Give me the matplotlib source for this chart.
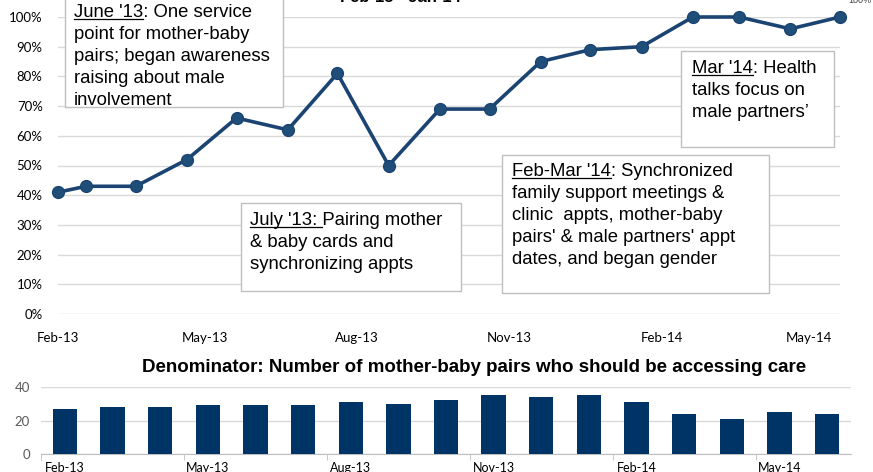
import matplotlib
matplotlib.use('Agg')
import matplotlib.pyplot as plt
import matplotlib.dates as mdates
from matplotlib.lines import Line2D
from matplotlib.patches import Rectangle
import pandas as pd

# top chart: proportion of mother-baby pairs accessing care
point_dates = ['2013-02-01', '2013-02-18', '2013-03-20', '2013-04-20', '2013-05-20',
               '2013-06-20', '2013-07-20', '2013-08-20', '2013-09-20', '2013-10-20',
               '2013-11-20', '2013-12-20', '2014-01-20', '2014-02-20', '2014-03-20',
               '2014-04-20', '2014-05-20']
pct_values = [0.41, 0.43, 0.43, 0.52, 0.66, 0.62, 0.81, 0.50, 0.69, 0.69,
              0.85, 0.89, 0.90, 1.00, 1.00, 0.96, 1.00]
top_ticks = ['2013-02-01', '2013-05-01', '2013-08-01', '2013-11-01', '2014-02-01', '2014-05-01']

# bottom chart: denominator
bar_months = ['Feb-13', 'Mar-13', 'Apr-13', 'May-13', 'Jun-13', 'Jul-13', 'Aug-13', 'Sep-13',
              'Oct-13', 'Nov-13', 'Dec-13', 'Jan-14', 'Feb-14', 'Mar-14', 'Apr-14', 'May-14',
              'Jun-14']
denominator = [27, 28, 28, 29, 29, 29, 31, 30, 32, 35, 34, 35, 31, 24, 21, 25, 24]

W, H = 873, 472
LINE_COL = '#1b4472'
BAR_COL = '#003366'
GRID_COL = '#d9d9d9'
TICK_FONT = 'Lato'
BOX_FONT = 'Liberation Sans'

fig = plt.figure(figsize=(W / 100, H / 100), dpi=100)


def fx(px):
    return px / W


def fy(py):
    return 1 - py / H


# ---- top line chart ----
ax = fig.add_axes([fx(58), fy(314), fx(840) - fx(58), fy(17) - fy(314)])
dates = pd.to_datetime(point_dates)
ax.plot(dates, pct_values, color=LINE_COL, lw=2.6, marker='o', ms=8.5,
        mec=LINE_COL, mfc='#1f4e79', clip_on=False, zorder=3)
ax.set_ylim(0, 1.0)
ax.set_xlim(dates[0], dates[-1])
ax.set_yticks([i / 10 for i in range(11)])
ax.set_yticklabels([f'{i * 10}%' for i in range(11)], fontsize=9.5, family=TICK_FONT)
ax.set_xticks(pd.to_datetime(top_ticks))
ax.xaxis.set_major_formatter(mdates.DateFormatter('%b-%y'))
for lab in ax.get_xticklabels():
    lab.set_fontfamily(TICK_FONT)
    lab.set_fontsize(9.5)
ax.tick_params(axis='both', length=0)
ax.tick_params(axis='x', pad=13)
ax.tick_params(axis='y', pad=11)
ax.grid(axis='y', color=GRID_COL, lw=1)
ax.set_axisbelow(True)
for s in ax.spines.values():
    s.set_visible(False)

# title cut off at the top of the image
fig.text(fx(400), fy(2.5), 'Feb-13 - Jan-14', ha='center', va='baseline',
         fontsize=12, fontweight='bold', family=BOX_FONT)
fig.text(fx(848), fy(3), '100%', ha='left', va='baseline', fontsize=6.5,
         color='#404040', family=BOX_FONT)

# ---- bottom bar chart ----
ax2 = fig.add_axes([fx(41), fy(454), fx(851) - fx(41), fy(387) - fy(454)])
xs = list(range(len(bar_months)))
ax2.bar(xs, denominator, width=0.51, color=BAR_COL, zorder=3)
ax2.set_xlim(-0.5, len(bar_months) - 0.5)
ax2.set_ylim(0, 40)
ax2.set_yticks([0, 20, 40])
ax2.set_yticklabels(['0', '20', '40'], fontsize=9.5, color='#595959', family=TICK_FONT)
ax2.set_xticks(xs[::3])
ax2.set_xticklabels(bar_months[::3], fontsize=9, family=TICK_FONT)
ax2.set_xticks([x - 0.5 for x in xs[::3]], minor=True)
ax2.tick_params(axis='x', which='major', length=0, pad=6)
ax2.tick_params(axis='x', which='minor', length=4, color='#bfbfbf')
ax2.tick_params(axis='y', length=0, pad=8)
ax2.grid(axis='y', color=GRID_COL, lw=1)
for k in ['top', 'right', 'left']:
    ax2.spines[k].set_visible(False)
ax2.spines['bottom'].set_color('#bfbfbf')
fig.text(fx(474), fy(367), 'Denominator: Number of mother-baby pairs who should be accessing care',
         ha='center', va='center', fontsize=13.5, fontweight='bold', family=BOX_FONT)

# ---- annotation boxes ----
boxes = [
    # (left, top, right, bottom, text left, text top, underlined part, text)
    (65, -20, 283, 107, 74, 4, "June '13",
     "June '13: One service\npoint for mother-baby\npairs; began awareness\nraising about male\ninvolvement"),
    (241, 203, 461, 291, 250, 212, "July '13: ",
     "July '13: Pairing mother\n& baby cards and\nsynchronizing appts"),
    (502, 155, 769, 293, 512, 163, "Feb-Mar '14",
     "Feb-Mar '14: Synchronized\nfamily support meetings &\nclinic  appts, mother-baby\n"
     "pairs' & male partners' appt\ndates, and began gender"),
    (681, 51, 834, 147, 692, 60, "Mar '14",
     "Mar '14: Health\ntalks focus on\nmale partners\u2019"),
]
FS = 13.3
texts = []
for x0, y0, x1, y1, tx, ty, under, txt in boxes:
    fig.add_artist(Rectangle((fx(x0), fy(y1)), fx(x1) - fx(x0), fy(y0) - fy(y1),
                             transform=fig.transFigure, facecolor='white',
                             edgecolor='#bfbfbf', lw=1, zorder=5))
    fig.text(fx(tx), fy(ty), txt, ha='left', va='top', fontsize=FS, family=BOX_FONT,
             linespacing=1.38, zorder=6)
    t = fig.text(fx(tx), fy(ty), under, ha='left', va='top', fontsize=FS,
                 family=BOX_FONT, alpha=0, zorder=6)
    texts.append(t)

fig.canvas.draw()
renderer = fig.canvas.get_renderer()
for t in texts:
    bb = t.get_window_extent(renderer)
    uy = bb.y0 + 0.12 * FS * 100 / 72
    fig.add_artist(Line2D([bb.x0 / W, bb.x1 / W], [uy / H, uy / H], color='black',
                          lw=0.9, transform=fig.transFigure, zorder=7))

fig.savefig('out.png', dpi=100)
